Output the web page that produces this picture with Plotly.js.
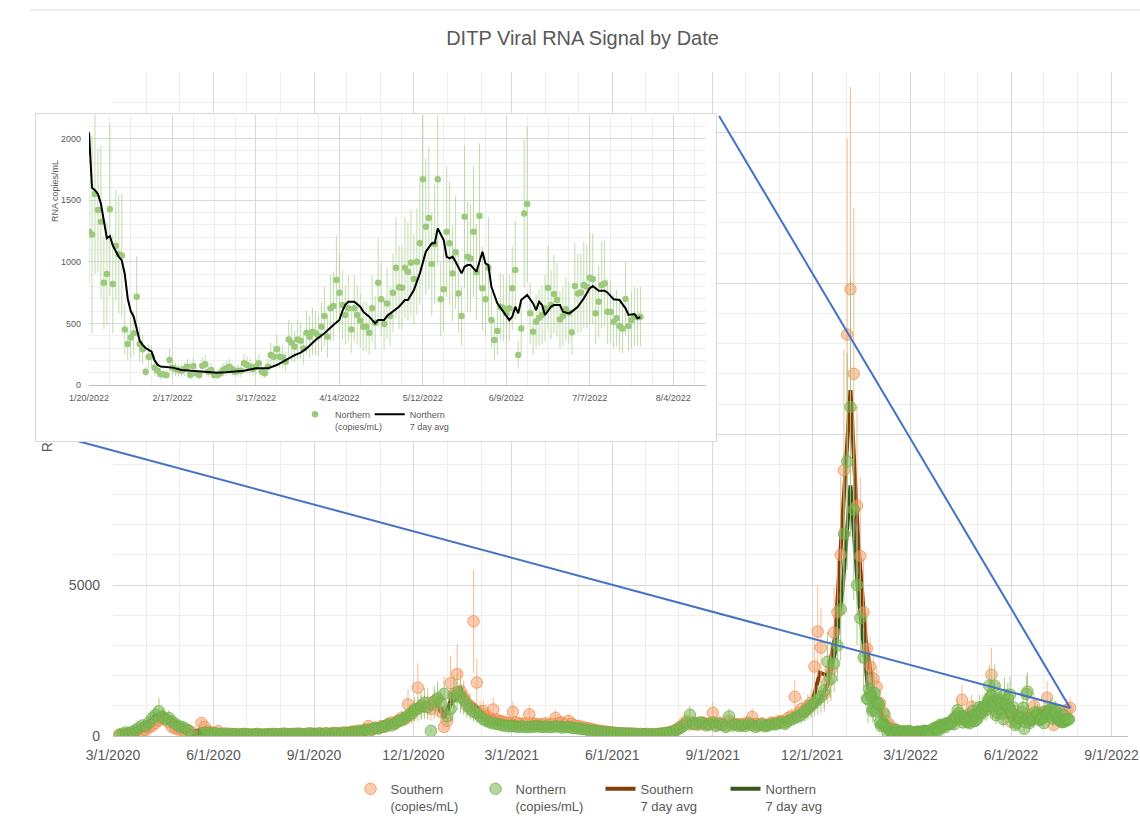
<!DOCTYPE html>
<html><head><meta charset="utf-8">
<script src="https://cdn.plot.ly/plotly-3.0.1.min.js"></script>
<style>
html,body{margin:0;padding:0;background:#fff;}
#main{position:absolute;left:0;top:0;width:1140px;height:827px;}
#inset{position:absolute;left:35px;top:113px;width:682px;height:329px;border:1px solid #d9d9d9;box-sizing:border-box;background:#fff;}
</style></head><body>
<div id="main"></div><div id="inset"></div>
<script>
// ---------------- DATA ----------------
// main chart: samples every 3 days starting 2020-03-07
const mainStart = '2020-03-07';
const mainStepDays = 3;
const southVals = [
 30,40,60,50,70,90,120,160,200,
 280,350,430,520,600,560,450,300,250,220,
 200,150,180,130,null,null,430,300,150,120,
 100,160,70,60,80,50,60,70,40,60,
 50,40,60,50,40,60,50,70,60,50,
 50,60,70,50,60,80,60,50,70,60,80,
 60,90,70,80,60,100,80,90,120,100,
 120,150,130,180,160,220,330,200,280,260,
 330,300,400,450,400,520,600,560,1050,700,
 900,1600,950,1000,1100,900,1050,1200,800,300,
 500,1750,1400,2050,1500,1300,1100,1000,3800,1770,
 800,830,650,600,880,550,500,480,450,420,
 800,450,420,400,430,720,420,400,380,390,
 420,380,400,600,420,450,380,500,400,350,
 330,300,280,260,240,200,180,170,150,140,
 120,110,100,90,80,90,70,80,70,60,
 60,50,60,70,60,80,90,110,130,170,
 230,300,400,500,380,450,420,380,450,400,
 420,770,380,450,400,350,500,420,380,400,
 380,420,450,630,400,380,420,350,380,450,
 420,480,500,450,600,650,1300,750,900,850,
 1000,1100,2300,3460,2930,1400,1800,2200,3430,4100,
 6000,8800,13300,14800,12000,7630,5960,4100,
 2900,2300,1900,1630,1100,800,500,350,250,
 200,160,140,130,120,110,130,120,140,
 150,170,200,250,300,320,380,420,500,550,
 600,1200,650,700,970,650,750,800,900,1100,
 2030,1200,1000,1100,900,850,470,700,600,650,
 600,700,650,1000,750,700,800,1270,700,370,
 650,750,700,870,930
];
const southErr = [
 20,20,30,30,30,40,50,70,80,
 100,120,150,200,250,200,180,120,100,90,
 80,60,70,50,0,0,150,120,60,50,
 40,60,30,30,30,20,30,30,20,30,
 20,20,30,20,20,30,20,30,30,20,
 20,30,30,20,30,30,30,20,30,30,30,
 30,40,30,30,30,40,30,40,50,40,
 50,60,50,70,60,90,130,80,110,100,
 130,120,160,180,160,200,250,220,500,300,
 400,800,400,450,500,400,500,550,350,120,
 200,900,650,1000,700,550,450,400,1700,800,
 350,350,280,250,400,220,200,200,180,170,
 350,180,170,160,170,300,170,160,150,160,
 170,150,160,250,170,180,150,200,160,140,
 130,120,110,100,100,80,70,70,60,60,
 50,45,40,40,30,40,30,30,30,25,
 25,20,25,30,25,30,40,45,50,70,
 90,120,160,200,150,180,170,150,180,160,
 170,350,150,180,160,140,200,170,150,160,
 150,170,180,300,160,150,170,140,150,180,
 170,190,200,180,250,260,550,300,380,350,
 400,450,1000,1500,1300,600,750,950,1500,1800,
 2600,4000,6500,6700,5500,3300,2600,1800,
 1200,1000,800,700,450,330,200,140,100,
 80,65,55,50,50,45,50,50,55,
 60,70,80,100,120,130,150,170,200,220,
 240,500,260,280,400,260,300,320,360,450,
 900,500,400,450,360,340,190,280,240,260,
 240,280,260,420,300,280,320,550,280,150,
 260,300,280,350,380
];
const northVals = [
 50,80,120,90,150,200,280,350,330,
 450,600,700,820,650,560,600,480,400,330,
 300,250,180,20,null,null,90,110,100,80,
 90,70,60,80,50,70,60,50,60,70,
 60,50,40,70,50,40,60,50,70,60,
 60,80,50,60,70,50,80,60,70,90,60,
 70,80,60,90,70,80,100,70,90,110,
 100,130,150,130,170,200,180,230,260,250,
 300,330,380,350,420,480,520,600,680,750,
 850,900,1000,1100,950,170,1150,1250,1100,1400,
 650,900,1300,1450,1300,1200,1000,900,800,750,
 650,550,500,450,420,400,380,350,330,320,
 330,310,300,320,290,310,300,330,310,300,
 310,290,300,320,310,280,290,300,270,260,
 250,230,220,200,180,170,150,140,130,120,
 110,100,90,90,80,70,80,70,60,70,
 60,70,60,50,60,70,80,100,120,150,
 200,260,330,420,700,400,380,450,420,350,
 380,450,330,400,360,300,650,350,380,330,
 350,330,400,360,300,340,380,320,350,400,
 380,420,450,400,500,550,600,650,700,800,
 900,1000,1100,1200,1300,1500,2460,1900,2400,3000,
 4200,6700,9100,10900,7500,5000,3900,2600
];
const northErr = [
 25,35,50,40,60,80,110,140,130,
 180,250,300,450,280,230,250,200,160,130,
 120,100,70,10,0,0,40,45,40,30,
 35,30,25,30,20,30,25,20,25,30,
 25,20,15,30,20,15,25,20,30,25,
 25,30,20,25,30,20,30,25,30,35,25,
 30,30,25,35,30,30,40,30,35,45,
 40,50,60,50,70,80,70,90,100,100,
 120,130,150,140,170,190,210,240,270,300,
 350,400,450,500,400,70,500,550,450,550,
 280,400,550,600,550,500,400,360,320,300,
 260,220,200,180,170,160,150,140,130,130,
 130,120,120,130,120,120,120,130,120,120,
 120,120,120,130,120,110,120,120,110,100,
 100,90,90,80,70,70,60,55,50,50,
 45,40,35,35,30,30,30,30,25,30,
 25,30,25,20,25,30,30,40,50,60,
 80,100,130,170,300,160,150,180,170,140,
 150,180,130,160,150,120,260,140,150,130,
 140,130,160,150,120,140,150,130,140,160,
 150,170,180,160,200,220,240,260,280,320,
 360,400,450,480,520,600,1000,750,950,1200,
 1700,2700,3600,4300,3000,2000,1500,1000
];
// 7 day averages: weekly samples starting 2020-03-11
const avgStart = '2020-03-11';
const avgStepDays = 7;
const southAvg = [
 50,70,120,220,380,560,480,300,180,140,
 200,180,110,80,60,55,50,50,55,55,
 55,60,60,60,65,70,75,80,90,100,
 140,170,210,260,330,420,500,720,950,1050,
 1000,950,600,1400,1600,1150,1000,750,650,580,
 480,500,430,430,460,410,430,420,410,360,
 310,260,200,155,115,95,85,75,62,62,
 72,100,180,310,430,420,420,500,420,420,
 400,400,480,400,390,430,490,620,760,860,
 1100,2100,2000,3300,7500,11460,6500,3200,1500,750,
 350,200,150,130,125,150,200,290,420,580,
 750,720,750,950,1150,950,800,650,700,750,
 700,800,700,750
];
const northAvg = [
 90,150,280,420,650,760,600,420,250,60,
 80,90,80,70,60,60,55,55,50,60,
 60,60,65,65,70,75,75,80,85,100,
 130,160,200,250,320,380,480,650,850,1000,
 900,1050,750,1150,1350,1050,800,550,450,400,
 340,320,310,305,310,300,305,295,290,265,
 235,200,165,130,105,90,80,70,62,60,
 68,95,160,280,450,420,400,380,370,420,
 360,350,360,340,360,390,430,530,620,720,
 900,1200,1700,2800,5000,8300,4800,2100
];
// inset: Northern daily from 2022-01-20
const insetStart = '2022-01-20';
const insetNorth = [
 1243,1220,1550,1420,1325,830,900,1425,820,1130,
 1060,1050,450,332,386,419,716,332,289,108,
 230,232,140,116,89,86,81,203,140,127,
 120,116,130,149,81,154,95,81,157,168,
 108,122,81,81,95,122,135,149,127,108,
 116,116,176,162,150,130,149,176,108,95,
 149,243,230,289,230,224,189,370,343,311,
 370,359,297,424,392,432,419,400,473,559,
 392,622,640,851,749,649,568,622,451,622,
 568,522,473,473,424,622,505,830,695,495,
 662,559,749,951,792,789,951,919,992,860,
 1000,1150,1668,1284,1354,981,1143,1668,695,776,
 1243,1149,905,1076,743,559,1365,1041,1027,1243,
 914,1370,784,695,951,527,365,438,635,622,
 581,622,784,932,243,459,1392,1468,581,432,
 514,546,568,622,789,649,738,689,532,559,
 614,586,427,803,743,751,811,797,870,859,
 581,676,811,824,595,592,514,541,478,459,
 697,478,527,554,549,554
];
const insetErr = [
 420,800,650,500,620,380,420,700,400,450,480,500,
 200,130,170,180,330,140,120,40,100,90,60,50,40,35,35,90,
 60,55,50,50,55,65,35,70,40,35,70,75,45,55,35,35,40,55,60,65,55,45,50,50,80,70,65,55,
 65,75,45,40,65,100,95,120,95,95,80,160,150,130,160,150,130,180,170,190,180,170,200,240,170,270,280,360,320,
 280,240,270,190,270,240,220,200,200,180,270,220,360,300,210,290,240,320,410,340,340,410,400,430,370,430,500,
 700,550,580,420,490,700,300,340,530,500,390,460,320,240,580,450,440,530,390,590,340,300,410,
 230,160,190,270,270,250,270,340,400,110,200,600,630,250,190,220,230,240,270,340,
 280,320,300,230,240,260,250,180,350,320,320,350,340,370,370,250,290,350,350,260,
 250,220,230,200,200,300,200,230,240,230,240
];
const insetAvgDay = [0,1,2,3,4,5,6,7,8,9,10,11,12,13,14,15,16,17,18,19,20,21,22,23,24,25,26,
 28,31,34,37,40,43,46,49,52,
 56,60,63,66,69,71,73,76,79,82,84,85,86,87,89,
 91,92,94,96,97,99,100,102,104,106,107,109,111,113,115,116,117,119,
 120,121,122,123,125,126,127,128,130,132,133,134,135,137,139,
 141,142,143,144,145,147,149,150,151,152,153,155,156,158,159,
 161,162,164,166,168,169,171,173,174,176,178,180,181,183,184,185];
const insetAvgVal = [2050,1600,1580,1550,1470,1340,1190,1208,1130,1085,1040,1010,900,700,600,554,450,360,325,300,285,270,200,165,150,148,146,
 141,122,116,108,103,100,103,108,116,
 135,135,162,203,243,262,297,365,419,486,527,600,650,676,676,
 635,595,554,500,527,527,559,595,635,689,689,770,905,1081,1149,1149,1270,1176,
 1040,1027,1041,1000,905,959,973,973,919,1081,986,973,797,662,595,
 527,554,635,581,689,730,662,608,676,649,568,635,649,649,595,
 581,595,635,703,784,803,765,765,749,695,689,622,568,576,541,549];

const seriesNames = ['Southern<br>(copies/mL)','Northern<br>(copies/mL)','Southern<br>7 day avg','Northern<br>7 day avg'];
const titleText = 'DITP Viral RNA Signal by Date';
const yTitleText = 'RNA copies/mL';
// main y ticks; labels of the ticks hidden behind the inset are left blank
const yTickVals = [0, 5000, 10000, 15000, 20000];
const yTickText = ['0', '5000', '', '', ''];

// ---------------- helpers ----------------
function addDays(iso, n){ const d = new Date(iso + 'T00:00:00Z'); d.setUTCDate(d.getUTCDate() + n); return d.toISOString().slice(0,10); }
function seq(start, step, n){ const a=[]; for(let i=0;i<n;i++) a.push(addDays(start, i*step)); return a; }

const southDates = seq(mainStart, mainStepDays, southVals.length);
const insetDates = seq(insetStart, 1, insetNorth.length);
const northDates = seq(mainStart, mainStepDays, northVals.length).concat(insetDates);
const northAll = northVals.concat(insetNorth);
const northErrAll = northErr.concat(insetErr);
const southAvgDates = seq(avgStart, avgStepDays, southAvg.length);
const insetAvgDates = insetAvgDay.map(d => addDays(insetStart, d));
const northAvgDates = seq(avgStart, avgStepDays, northAvg.length).concat(insetAvgDates);
const northAvgAll = northAvg.concat(insetAvgVal);

const FONT = 'Liberation Sans, Arial, sans-serif';
const GREY = '#595959';

// ---------------- MAIN CHART ----------------
const xRange = ['2020-03-01','2022-09-16'];
const yRange = [0, 22000];

const traces = [
 {x: southAvgDates, y: southAvg, name: seriesNames[2], legendrank:3, type:'scatter', mode:'lines',
  line:{color:'#843C0C', width:4}},
 {x: northAvgDates, y: northAvgAll, name: seriesNames[3], legendrank:4, type:'scatter', mode:'lines',
  line:{color:'#385723', width:4}},
 {x: southDates, y: southVals, name: seriesNames[0], legendrank:1, type:'scatter', mode:'markers',
  marker:{size:11.5, color:'rgba(244,160,110,0.55)', line:{color:'rgba(237,125,49,0.6)', width:1}},
  error_y:{type:'data', array: southErr, visible:true, color:'rgba(244,177,131,0.85)', thickness:1, width:0}},
 {x: northDates, y: northAll, name: seriesNames[1], legendrank:2, type:'scatter', mode:'markers',
  marker:{size:11.5, color:'rgba(120,182,80,0.55)', line:{color:'rgba(112,173,71,0.75)', width:1}},
  error_y:{type:'data', array: northErrAll, visible:true, color:'rgba(150,200,120,0.85)', thickness:1, width:0}}
];

// anchor of the blue callout lines = last Southern sample, mapped through the axis ranges
const lastIdx = southVals.length - 1;
const t0 = Date.parse(xRange[0]), t1 = Date.parse(xRange[1]);
const ax = (Date.parse(southDates[lastIdx]) - t0) / (t1 - t0);
const ay = (southVals[lastIdx] - yRange[0]) / (yRange[1] - yRange[0]);

const layout = {
 width:1140, height:827,
 margin:{l:113, r:12, t:72, b:91, autoexpand:false},
 paper_bgcolor:'#ffffff', plot_bgcolor:'#ffffff',
 font:{family:FONT, color:GREY},
 hovermode:false,
 title:{text:titleText, x:0.511, xref:'container', xanchor:'center', y:0.954, yref:'container', yanchor:'middle',
        font:{family:FONT, size:20, color:GREY}},
 xaxis:{type:'date', range:xRange, tick0:'2020-03-01', dtick:'M3', tickformat:'%-m/%-d/%Y',
        showgrid:true, gridcolor:'#d9d9d9', gridwidth:1,
        minor:{dtick:'M1', tick0:'2020-03-01', showgrid:true, gridcolor:'#eeeeee', gridwidth:1},
        showline:true, linecolor:'#bfbfbf', ticks:'', zeroline:false,
        tickfont:{size:14, color:GREY}, ticklabelstandoff:6},
 yaxis:{range:yRange, tickmode:'array', tickvals:yTickVals, ticktext:yTickText,
        showgrid:true, gridcolor:'#d9d9d9',
        minor:{tickmode:'linear', tick0:0, dtick:1000, showgrid:true, gridcolor:'#eeeeee'},
        ticks:'', zeroline:false, showline:false,
        tickfont:{size:14, color:GREY}, ticklabelstandoff:12,
        title:{text:yTitleText, font:{size:14, color:GREY}, standoff:12}},
 showlegend:true,
 legend:{orientation:'h', x:0.234, xanchor:'left', y:-0.057, yanchor:'top', valign:'top',
         font:{family:FONT, size:13, color:GREY}, itemwidth:30, entrywidth:80, entrywidthmode:'pixels',
         traceorder:'normal', bgcolor:'rgba(0,0,0,0)'},
 shapes:[
  {type:'line', xref:'paper', yref:'paper', x0:-0.0818, x1:1.0118, y0:1.0934, y1:1.0934, line:{color:'#d9d9d9', width:1}},
  {type:'line', xref:'paper', yref:'paper', xsizemode:'pixel', ysizemode:'pixel', xanchor:ax, yanchor:ay,
   x0:0, y0:0, x1:-1015, y1:273, line:{color:'#4472C4', width:2}, layer:'above'},
  {type:'line', xref:'paper', yref:'paper', xsizemode:'pixel', ysizemode:'pixel', xanchor:ax, yanchor:ay,
   x0:0, y0:0, x1:-351, y1:592, line:{color:'#4472C4', width:2}, layer:'above'}
 ]
};

Plotly.newPlot('main', traces, layout, {displayModeBar:false, staticPlot:true});

// ---------------- INSET ----------------
const insetTraces = [
 {x: insetDates, y: insetNorth, name:'Northern<br>(copies/mL)', legend:'legend', type:'scatter', mode:'markers',
  marker:{size:6.5, color:'#9cc97c'},
  error_y:{type:'data', array: insetErr, visible:true, color:'rgba(169,209,142,0.75)', thickness:1, width:0}},
 {x: insetAvgDates, y: insetAvgVal, name:'Northern<br>7 day avg', legend:'legend2', type:'scatter', mode:'lines',
  line:{color:'#000000', width:2}}
];
const insetLegendStyle = {orientation:'h', xanchor:'left', y:-0.063, yanchor:'top', valign:'top',
  font:{family:FONT, size:9, color:GREY}, itemwidth:30, bgcolor:'rgba(0,0,0,0)'};
const insetLayout = {
 width:680, height:327,
 margin:{l:53, r:10, t:1, b:56, autoexpand:false},
 paper_bgcolor:'#ffffff', plot_bgcolor:'#ffffff',
 font:{family:FONT, color:GREY},
 hovermode:false,
 xaxis:{type:'date', range:['2022-01-20','2022-08-15'], tick0:'2022-01-20', dtick:28*86400000, tickformat:'%-m/%-d/%Y',
        showgrid:true, gridcolor:'#d9d9d9',
        minor:{dtick:7*86400000, tick0:'2022-01-20', showgrid:true, gridcolor:'#eeeeee'},
        showline:true, linecolor:'#bfbfbf', ticks:'', zeroline:false,
        tickfont:{size:9, color:GREY}, ticklabelstandoff:4},
 yaxis:{range:[0,2190], tick0:0, dtick:500, showgrid:true, gridcolor:'#d9d9d9',
        minor:{dtick:100, showgrid:true, gridcolor:'#eeeeee'},
        ticks:'', zeroline:false, tickfont:{size:9, color:GREY}, ticklabelstandoff:7},
 annotations:[{text:yTitleText, textangle:-90, xref:'paper', yref:'paper', x:-0.056, y:0.72,
   xanchor:'center', yanchor:'middle', showarrow:false, font:{size:9, color:GREY}}],
 showlegend:true,
 legend:Object.assign({x:0.334}, insetLegendStyle),
 legend2:Object.assign({x:0.455}, insetLegendStyle)
};
Plotly.newPlot('inset', insetTraces, insetLayout, {displayModeBar:false, staticPlot:true});
</script></body></html>
